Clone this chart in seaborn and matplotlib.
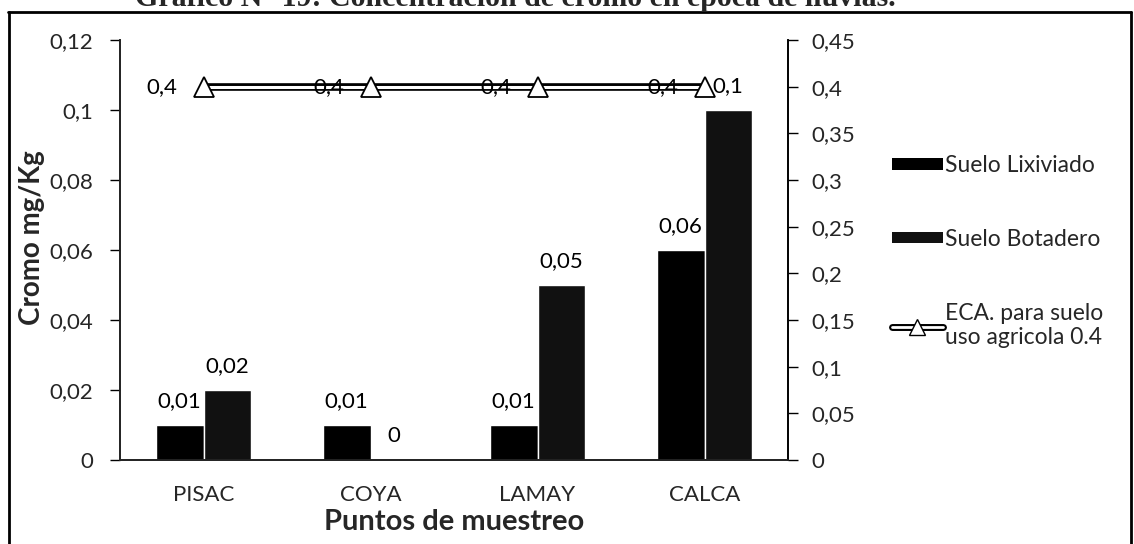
import numpy as np
import pandas as pd
import seaborn as sns
import matplotlib
matplotlib.use("Agg")
import matplotlib.pyplot as plt
from matplotlib.lines import Line2D
from matplotlib.patches import Patch
from matplotlib.ticker import FuncFormatter, FixedLocator

# ---- data ----
puntos = ["PISAC", "COYA", "LAMAY", "CALCA"]
suelo_lixiviado = [0.01, 0.01, 0.01, 0.06]
suelo_botadero = [0.02, 0.0, 0.05, 0.1]
eca_agricola = [0.4, 0.4, 0.4, 0.4]
series = ["Suelo Lixiviado", "Suelo Botadero"]
eca_label = "ECA. para suelo\nuso agricola 0.4"
titulo = "Gráfico N° 19: Concentración de cromo en época de lluvias."

df = pd.DataFrame({
    "punto": puntos * 2,
    "serie": [series[0]] * len(puntos) + [series[1]] * len(puntos),
    "valor": suelo_lixiviado + suelo_botadero,
})

sns.set_theme(style="white")
plt.rcParams["font.family"] = ["Lato", "DejaVu Sans"]

FS = 16
W, H = 1134, 544
fig = plt.figure(figsize=(W / 100, H / 100), dpi=100)
ax = fig.add_axes([120 / W, 1 - 460 / H, (788 - 120) / W, (460 - 40) / H])

colors = ["#000000", "#111111"]
sns.barplot(data=df, x="punto", y="valor", hue="serie", order=puntos,
            hue_order=series, palette=colors, width=0.57, ax=ax,
            edgecolor="white", linewidth=1, legend=False, saturation=1)


def coma(v, _pos=None):
    if abs(v) < 1e-12:
        return "0"
    s = f"{v:.2f}".rstrip("0").rstrip(".")
    return s.replace(".", ",")


for cont in ax.containers:
    ax.bar_label(cont, labels=[coma(b.get_height()) for b in cont],
                 padding=10, fontsize=FS, color="black")

ax.set_ylim(0, 0.12)
ax.set_yticks(np.arange(0, 0.1201, 0.02))
ax.yaxis.set_major_formatter(FuncFormatter(coma))
ax.set_xlim(-0.5, len(puntos) - 0.5)
ax.xaxis.set_major_locator(FixedLocator(np.arange(-0.5, len(puntos), 1.0)))
ax.xaxis.set_minor_locator(FixedLocator(np.arange(len(puntos))))
ax.set_xticklabels([""] * (len(puntos) + 1))
ax.set_xticklabels(puntos, minor=True)
ax.tick_params(axis="x", which="major", direction="out", length=7, width=1, color="black")
ax.tick_params(axis="x", which="minor", length=0, pad=18, labelsize=FS)
ax.tick_params(axis="y", direction="out", length=7, width=1, color="black",
               labelsize=FS, pad=12, left=True)

ax.set_xlabel("Puntos de muestreo", fontsize=21, fontweight="bold", labelpad=3)
ax.set_ylabel("Cromo mg/Kg", fontsize=20, fontweight="bold")
ax.yaxis.set_label_coords(-0.112, 0.53)

ax.spines["top"].set_visible(False)
for side in ["left", "bottom", "right"]:
    ax.spines[side].set_color("black")
    ax.spines[side].set_linewidth(1.2)

# secondary axis with the ECA reference line
ax2 = ax.twinx()
x_pos = np.arange(len(puntos))
sns.lineplot(x=x_pos, y=eca_agricola, ax=ax2, color="black", linewidth=5.5,
             legend=False)
sns.lineplot(x=x_pos, y=eca_agricola, ax=ax2, color="white", linewidth=2.2,
             marker="^", markersize=14, markerfacecolor="white",
             markeredgecolor="black", markeredgewidth=1.3, legend=False)
for xi, yi in zip(x_pos, eca_agricola):
    ax2.annotate(coma(yi), (xi, yi), xytext=(-30, 0), textcoords="offset points",
                 ha="center", va="center", fontsize=FS, color="black")

ax2.set_ylim(0, 0.45)
ax2.set_yticks(np.arange(0, 0.4501, 0.05))
ax2.yaxis.set_major_formatter(FuncFormatter(coma))
ax2.tick_params(axis="y", direction="out", length=7, width=1, color="black",
                labelsize=FS, pad=10, right=True)
ax2.spines["top"].set_visible(False)
ax2.spines["right"].set_color("black")
ax2.spines["right"].set_linewidth(1.2)
ax2.set_ylabel("")
ax2.grid(False)
ax.grid(False)

# legend at the right
handles = [
    Patch(facecolor=colors[0], edgecolor="none"),
    Patch(facecolor=colors[1], edgecolor="none"),
    (Line2D([], [], color="black", linewidth=5),
     Line2D([], [], color="white", linewidth=2, marker="^", markersize=11,
            markerfacecolor="white", markeredgecolor="black")),
]
fig.legend(handles, series + [eca_label], loc="upper left",
           bbox_to_anchor=(883 / W, 1 - 146 / H), frameon=False, fontsize=16.5,
           handlelength=2.2, handleheight=0.4, handletextpad=0.1,
           labelspacing=2.3, borderaxespad=0)

# page frame and the title running past the top edge of the page crop
frame_y = 1 - 12 / H
fig.add_artist(Line2D([8 / W, 1131 / W], [frame_y, frame_y], color="black",
                      linewidth=2, transform=fig.transFigure))
fig.add_artist(Line2D([9 / W, 9 / W], [frame_y, 0], color="black",
                      linewidth=2, transform=fig.transFigure))
fig.add_artist(Line2D([1131 / W, 1131 / W], [frame_y, 0], color="black",
                      linewidth=2, transform=fig.transFigure))
fig.text(515 / W, 1 - 6 / H, titulo, ha="center", va="baseline",
         fontsize=21.5, fontweight="bold", family=["Liberation Serif"])

fig.savefig("out.png", dpi=100)
